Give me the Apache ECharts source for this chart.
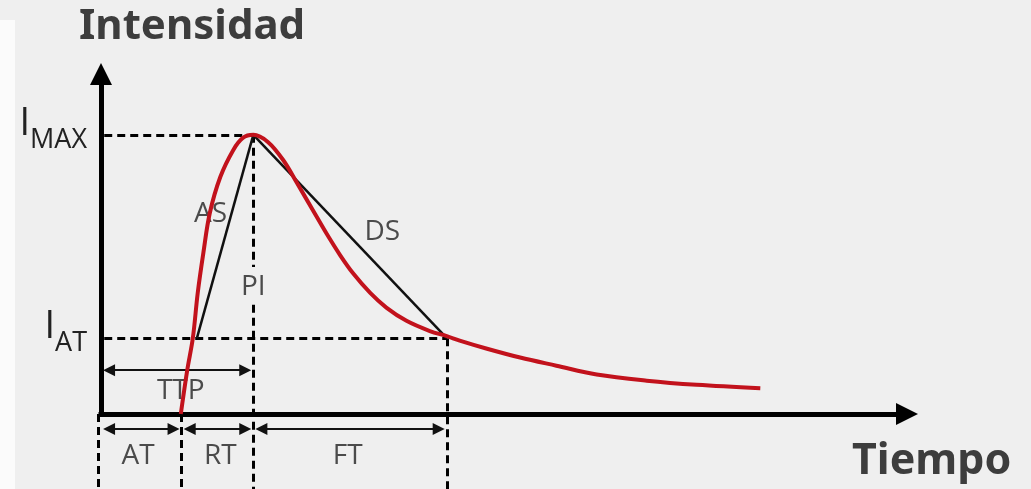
<!DOCTYPE html>
<html>
<head>
<meta charset="utf-8">
<script src="https://cdn.jsdelivr.net/npm/echarts@6/dist/echarts.min.js"></script>
<style>
html,body{margin:0;padding:0;background:#efefef;}
#c{width:1031px;height:489px;}
</style>
</head>
<body>
<div id="c"></div>
<script>
// ---- data (time units 0..100, intensity units 0..100) ----
const curveTime      = [9.9, 10.7, 11.4, 12.0, 12.7, 13.5, 14.8, 16.4, 17.6, 18.9, 20.7, 22.6, 24.3, 26.2, 28.0, 29.7, 31.3, 33.4, 35.4, 37.9, 40.8, 42.9, 44.5, 47.9, 52.0, 56.5, 61.5, 67.7, 73.9, 81.8];
const curveIntensity = [0.0, 12.9, 22.4, 35.6, 47.4, 59.1, 69.7, 77.6, 81.2, 82.1, 80.0, 74.7, 68.0, 60.3, 53.0, 46.6, 41.3, 35.6, 31.3, 27.4, 24.4, 22.9, 21.6, 19.2, 16.6, 14.2, 11.6,  9.8,  8.6,  7.6];

const I_MAX = 82.1;      // peak intensity
const I_AT = 22.3;       // intensity at arrival / fall threshold
const T_START = 0;       // origin
const T_ARRIVAL = 10.0;  // end of AT
const T_PEAK = 18.9;     // time to peak
const T_FALL = 42.9;     // end of FT
const T_AS_START = 11.9; // start of ascending slope line
const Y_BOTTOM = -22.1;  // bottom of the guide lines under the axis
const PI_GAP = [43.2, 32.1];      // break in PI guide line for its label

const intervalNames = ['AT', 'RT', 'FT'];
const intervalStart = [T_START, T_ARRIVAL, T_PEAK];
const intervalEnd   = [T_ARRIVAL, T_PEAK, T_FALL];
const intervalRowY  = -4.4;
const ttpRowY = 12.9;

const textNames = ['AS', 'DS', 'PI', 'TTP', 'AT', 'RT', 'FT'];
const textX     = [13.6, 34.9, 18.9, 9.9, 4.6, 14.8, 30.6];
const textY     = [58.8, 53.5, 37.4, 6.8, -12.4, -12.4, -12.4];

const yTickValues = [I_AT, I_MAX];

// ---- build ----
const ARROW_INSET = 1.0;
const curve = curveTime.map((t, i) => [t, curveIntensity[i]]);

const dashed = [
  {coords: [[0.4, I_MAX], [T_PEAK, I_MAX]]},
  {coords: [[0.4, I_AT], [T_FALL, I_AT]]},
  {coords: [[T_PEAK, I_MAX], [T_PEAK, PI_GAP[0]]]},
  {coords: [[T_PEAK, PI_GAP[1]], [T_PEAK, Y_BOTTOM]]},
  {coords: [[T_FALL, I_AT], [T_FALL, Y_BOTTOM]]},
  {coords: [[T_ARRIVAL, 0], [T_ARRIVAL, Y_BOTTOM]]},
  {coords: [[-0.4, 0], [-0.4, Y_BOTTOM]]}
];
const slopes = [
  {coords: [[T_AS_START, I_AT], [T_PEAK, I_MAX]]},
  {coords: [[T_PEAK, I_MAX], [T_FALL, I_AT]]}
];
const arrows = [{coords: [[T_START + ARROW_INSET, ttpRowY], [T_PEAK - ARROW_INSET, ttpRowY]]}];
intervalNames.forEach((n, i) => {
  arrows.push({coords: [[intervalStart[i] + ARROW_INSET, intervalRowY], [intervalEnd[i] - ARROW_INSET, intervalRowY]]});
});
const texts = textNames.map((n, i) => ({name: n, value: [textX[i], textY[i]]}));

const textFont = {fontFamily: 'Open Sans', fontWeight: 'normal', color: '#222'};

const chart = echarts.init(document.getElementById('c'), null, {renderer: 'canvas'});
chart.setOption({
  animation: false,
  backgroundColor: '#efefef',
  graphic: [{type: 'rect', shape: {x: 0, y: 20, width: 15, height: 469}, style: {fill: '#fbfbfb'}, z: -10}],
  title: [
    {text: 'Intensidad', left: 79, top: 6, padding: 0,
     textStyle: {fontFamily: 'Noto Sans', fontWeight: 'bold', fontSize: 42, color: '#3d3d3d'}},
    {text: 'Tiempo', left: 852, top: 440, padding: 0,
     textStyle: {fontFamily: 'Noto Sans', fontWeight: 'bold', fontSize: 43, color: '#3d3d3d'}}
  ],
  grid: {left: 101, top: 74, right: 124, bottom: 75, containLabel: false},
  xAxis: {
    type: 'value', min: 0, max: 100,
    axisLine: {show: true, onZero: true, symbol: ['none', 'triangle'], symbolSize: [22, 22],
               lineStyle: {color: '#000', width: 5, cap: 'square'}},
    axisTick: {show: false}, axisLabel: {show: false}, splitLine: {show: false}
  },
  yAxis: {
    type: 'value', min: 0, max: 100,
    axisLine: {show: true, symbol: ['none', 'triangle'], symbolSize: [22, 22],
               lineStyle: {color: '#000', width: 5, cap: 'square'}},
    axisTick: {show: false}, splitLine: {show: false},
    axisLabel: {
      show: true, customValues: yTickValues, margin: 14,
      formatter: v => Math.abs(v - I_MAX) < 1e-6 ? '{i|I}{s|MAX}' : '{i|I}{s|AT}',
      rich: {
        i: {fontFamily: 'Open Sans', fontSize: 38, lineHeight: 38, color: '#222',
            verticalAlign: 'bottom', padding: [0, 0, 11, 0]},
        s: {fontFamily: 'Open Sans', fontSize: 27, lineHeight: 28, color: '#222',
            verticalAlign: 'bottom'}
      }
    }
  },
  series: [
    {type: 'lines', coordinateSystem: 'cartesian2d', clip: false, z: 2, silent: true,
     lineStyle: {color: '#000', width: 3, type: [8, 5], opacity: 1}, data: dashed},
    {type: 'lines', coordinateSystem: 'cartesian2d', clip: false, z: 3, silent: true,
     lineStyle: {color: '#111', width: 2.5, opacity: 1}, data: slopes},
    {type: 'lines', coordinateSystem: 'cartesian2d', clip: false, z: 3, silent: true,
     symbol: ['triangle', 'triangle'], symbolSize: 12,
     lineStyle: {color: '#111', width: 2, opacity: 1}, data: arrows},
    {type: 'scatter', clip: false, z: 4, symbolSize: 0, silent: true,
     label: Object.assign({show: true, position: 'inside', formatter: '{b}', fontSize: 28}, textFont),
     data: texts},
    {type: 'line', data: curve, smooth: 0.35, symbol: 'none', z: 6, clip: false,
     lineStyle: {color: '#c2121c', width: 4}}
  ]
});
</script>
</body>
</html>
